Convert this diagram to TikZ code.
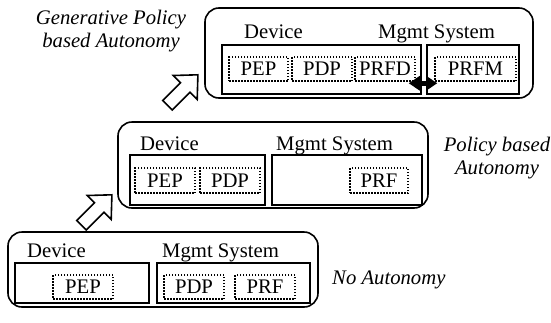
\documentclass[tikz,border=0pt]{standalone}
\usepackage{fontspec}
\setmainfont{Liberation Serif}
\usetikzlibrary{positioning}
\usetikzlibrary{arrows.meta}
\tikzset{
    levelbox/.style = {rectangle, rounded corners=14pt, draw=black, line width=1.6pt},
    partbox/.style = {rectangle, draw=black, line width=1.6pt},
    funcbox/.style = {rectangle, draw=black, line width=1.5pt, dash pattern=on 1.5pt off 1.5pt, minimum height=24pt, minimum width=60pt, inner sep=1pt},
    partlabel/.style = {inner sep=0pt, anchor=base west},
    levelname/.style = {align=center, font=\fontsize{20.7}{23}\itshape, inner sep=0pt},
    lift/.style = {draw=black, fill=white, line width=1.6pt, line join=miter},
    sync/.style = {line width=5pt, solid, arrows={Triangle[width=14pt,length=11pt]-Triangle[width=14pt,length=11pt]}}
}

\begin{document}
\begin{tikzpicture}[x=1pt, y=-1pt, font=\fontsize{20.7}{24}\selectfont]
  \useasboundingbox (0,0) rectangle (551,322);

  % No autonomy
  \node[levelbox, minimum width=310pt, minimum height=75pt] at (163,269.5) (lvla) {};
  \node[partbox, minimum width=134pt, minimum height=40pt] at (82,283) (deva) {};
  \node[partbox, minimum width=153pt, minimum height=40pt] at (233.5,283) (mgmta) {};
  \node[partlabel] at (27,257) (devlbla) {Device};
  \node[partlabel] at (162,257) (mgmtlbla) {Mgmt System};
  \node[funcbox] at (83,287) (pepa) {PEP};
  \node[funcbox] at (194,287) (pdpa) {PDP};
  \node[funcbox] at (265,287) (prfa) {PRF};
  \node[levelname, anchor=base west] at (332,284) (namea) {No Autonomy};

  % Policy based autonomy
  \node[levelbox, minimum width=310pt, minimum height=86pt] at (273,165) (lvlb) {};
  \node[partbox, minimum width=135pt, minimum height=50pt] at (197.5,180) (devb) {};
  \node[partbox, minimum width=150pt, minimum height=50pt] at (347,180) (mgmtb) {};
  \node[partlabel] at (140,150) (devlblb) {Device};
  \node[partlabel] at (276,150) (mgmtlblb) {Mgmt System};
  \node[funcbox, minimum height=25pt] at (165,180.5) (pepb) {PEP};
  \node[funcbox, minimum height=25pt] at (230,180.5) (pdpb) {PDP};
  \node[funcbox, minimum height=25pt, minimum width=58pt] at (379,180.5) (prfb) {PRF};
  \node[levelname] at (497,158) (nameb) {Policy based\\Autonomy};

  % Generative policy based autonomy
  \node[levelbox, minimum width=328pt, minimum height=90pt] at (369,53) (lvlc) {};
  \node[partbox, minimum width=199pt, minimum height=49pt] at (321.5,69.5) (devc) {};
  \node[partbox, minimum width=92pt, minimum height=49pt] at (473,69.5) (mgmtc) {};
  \node[partlabel] at (244,38) (devlblc) {Device};
  \node[partlabel] at (378,38) (mgmtlblc) {Mgmt System};
  \node[funcbox, minimum width=59pt] at (258.5,69) (pepc) {PEP};
  \node[funcbox] at (322,69) (pdpc) {PDP};
  \node[funcbox] at (385,69) (prfd) {PRFD};
  \node[funcbox, minimum width=81pt] at (475.5,69) (prfm) {PRFM};
  \node[levelname] at (111,31) (namec) {Generative Policy\\based Autonomy};

  % steps up
  \coordinate (stepab) at (96.7,210);
  \coordinate (stepbc) at (182.7,90);
  \draw[lift, shift={(stepab)}, rotate=45] (-21.5,-6.75) -- (3.5,-6.75) -- (3.5,-17) -- (21.5,0) -- (3.5,17) -- (3.5,6.75) -- (-21.5,6.75) -- cycle;
  \draw[lift, shift={(stepbc)}, rotate=45] (-21.5,-6.75) -- (3.5,-6.75) -- (3.5,-17) -- (21.5,0) -- (3.5,17) -- (3.5,6.75) -- (-21.5,6.75) -- cycle;

  \draw[sync, shorten <=-7pt, shorten >=-3pt] ([yshift=-1.5pt]prfd.south east) -- ([yshift=-1.5pt]prfm.south west);
\end{tikzpicture}
\end{document}
